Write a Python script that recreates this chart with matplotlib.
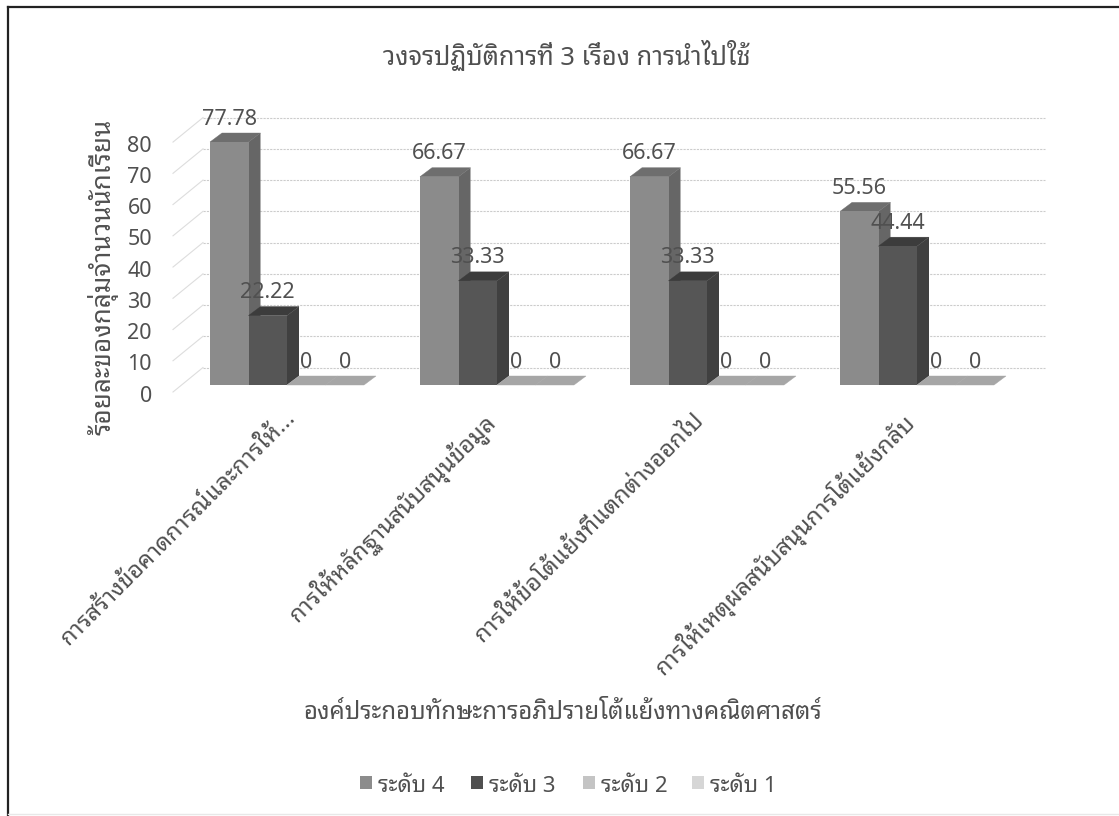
import matplotlib
matplotlib.use("Agg")
import matplotlib.pyplot as plt
from matplotlib.lines import Line2D
from matplotlib.patches import Polygon, Rectangle

plt.rcParams['font.family'] = ['Noto Sans Thai Looped', 'Noto Sans', 'DejaVu Sans']

title = 'วงจรปฏิบัติการที่ 3 เรื่อง การนำไปใช้'
y_title = 'ร้อยละของกลุ่มจำนวนนักเรียน'
x_title = 'องค์ประกอบทักษะการอภิปรายโต้แย้งทางคณิตศาสตร์'
categories = ['การสร้างข้อคาดการณ์และการให้...',
              'การให้หลักฐานสนับสนุนข้อมูล',
              'การให้ข้อโต้แย้งที่แตกต่างออกไป',
              'การให้เหตุผลสนับสนุนการโต้แย้งกลับ']
series_names = ['ระดับ 4', 'ระดับ 3', 'ระดับ 2', 'ระดับ 1']
level4 = [77.78, 66.67, 66.67, 55.56]
level3 = [22.22, 33.33, 33.33, 44.44]
level2 = [0, 0, 0, 0]
level1 = [0, 0, 0, 0]
y_ticks = [0, 10, 20, 30, 40, 50, 60, 70, 80]

W, H = 1119, 816
front_col = ['#8b8b8b', '#565656', '#b4b4b4', '#c8c8c8']
side_col = ['#666666', '#404040', '#a6a6a6', '#a6a6a6']
top_col = ['#6e6e6e', '#3c3c3c', '#a6a6a6', '#a6a6a6']
legend_col = ['#8c8c8c', '#505050', '#c4c4c4', '#d6d6d6']
text_col = '#505050'

fig = plt.figure(figsize=(W / 100, H / 100), dpi=100)
fig.patch.set_facecolor('white')

# axes over the plot area: one x unit is one category, y is percent
left, right, top, bottom = 173, 1045, 117, 392
ax = fig.add_axes([left / W, 1 - bottom / H, (right - left) / W, (bottom - top) / H])
px_per_x = 210.0
px_per_y = 3.124
centre0 = 287.0
base_px = 385.0
ax.set_xlim((left - centre0) / px_per_x, (right - centre0) / px_per_x)
ax.set_ylim((base_px - bottom) / px_per_y, (base_px - top) / px_per_y)
ax.axis('off')

bar_w = 38.5 / px_per_x
dep_x, dep_y = 12 / px_per_x, 9 / px_per_y
wall_x, wall_y = 30 / px_per_x, 24.5 / px_per_y
floor_y = -7 / px_per_y

# back wall grid and its run towards the tick labels
x0 = ax.get_xlim()[0]
x1 = ax.get_xlim()[1]
for t in y_ticks:
    ax.plot([x0 + wall_x, x1], [t + floor_y + wall_y] * 2, color='#cccccc', lw=0.8,
            ls=(0, (2, 1)), clip_on=False, zorder=1)
    ax.plot([x0, x0 + wall_x], [t + floor_y, t + floor_y + wall_y], color='#dddddd', lw=0.8,
            clip_on=False, zorder=1)
    ax.annotate(str(t), (x0, t), xytext=(-21, -11), textcoords='offset pixels',
                ha='right', va='center', fontsize=15.5, color=text_col)

z = 2
all_series = [level4, level3, level2, level1]
for i in range(len(categories)):
    for s, vals in enumerate(all_series):
        v = vals[i]
        x = i - 2 * bar_w + s * bar_w
        ax.add_patch(Polygon([(x, v), (x + dep_x, v + dep_y), (x + bar_w + dep_x, v + dep_y),
                              (x + bar_w, v)], fc=top_col[s], ec=top_col[s], lw=0.3, zorder=z))
        if v > 0:
            ax.add_patch(Polygon([(x + bar_w, 0), (x + bar_w + dep_x, dep_y),
                                  (x + bar_w + dep_x, v + dep_y), (x + bar_w, v)],
                                 fc=side_col[s], ec='none', zorder=z))
            ax.bar(x, v, width=bar_w, align='edge', color=front_col[s], zorder=z)
        z += 1

# value labels sit above the front face, on top of every bar
for i in range(len(categories)):
    for s, vals in enumerate(all_series):
        x = i - 2 * bar_w + (s + 0.5) * bar_w
        ax.annotate(f'{vals[i]:g}', (x, vals[i]), xytext=(0, 23), textcoords='offset pixels',
                    ha='center', va='center', fontsize=15.5, color=text_col, zorder=50)

# category labels end under the group centre, slanted upward;
# the first one is cut short and its dots reach further right
for i, c in enumerate(categories):
    off = (-3, -21) if i == 0 else (-15, -23)
    ax.annotate(c, (i, 0), xytext=off, textcoords='offset pixels', rotation=45,
                rotation_mode='anchor', ha='right', va='top', fontsize=17, color=text_col)

fig.text(567 / W, 1 - 55 / H, title, ha='center', va='center', fontsize=18.3, color=text_col)
fig.text(103 / W, 1 - 277 / H, y_title, rotation=90, ha='center', va='center', fontsize=18.8,
         color=text_col)
fig.text(563 / W, 1 - 713 / H, x_title, ha='center', va='center', fontsize=17.3, color=text_col)

# legend row
leg_x = [360, 471, 583, 692]
for name, col, lx in zip(series_names, legend_col, leg_x):
    fig.add_artist(Rectangle((lx / W, 1 - 789 / H), 12 / W, 13 / H, fc=col, ec='none',
                             transform=fig.transFigure))
    fig.text((lx + 18) / W, 1 - 787 / H, name, ha='left', va='center', fontsize=16,
             color=text_col)

# frame: solid along the top and left, barely visible along the bottom
fig.add_artist(Line2D([8 / W, 1], [1 - 7 / H, 1 - 7 / H], color='#222222', lw=1.6,
                      transform=fig.transFigure))
fig.add_artist(Line2D([8 / W, 8 / W], [0, 1 - 7 / H], color='#222222', lw=1.6,
                      transform=fig.transFigure))
fig.add_artist(Line2D([8 / W, 1], [2 / H, 2 / H], color='#e8e8e8', lw=1,
                      transform=fig.transFigure))

fig.savefig('out.png', dpi=100)
